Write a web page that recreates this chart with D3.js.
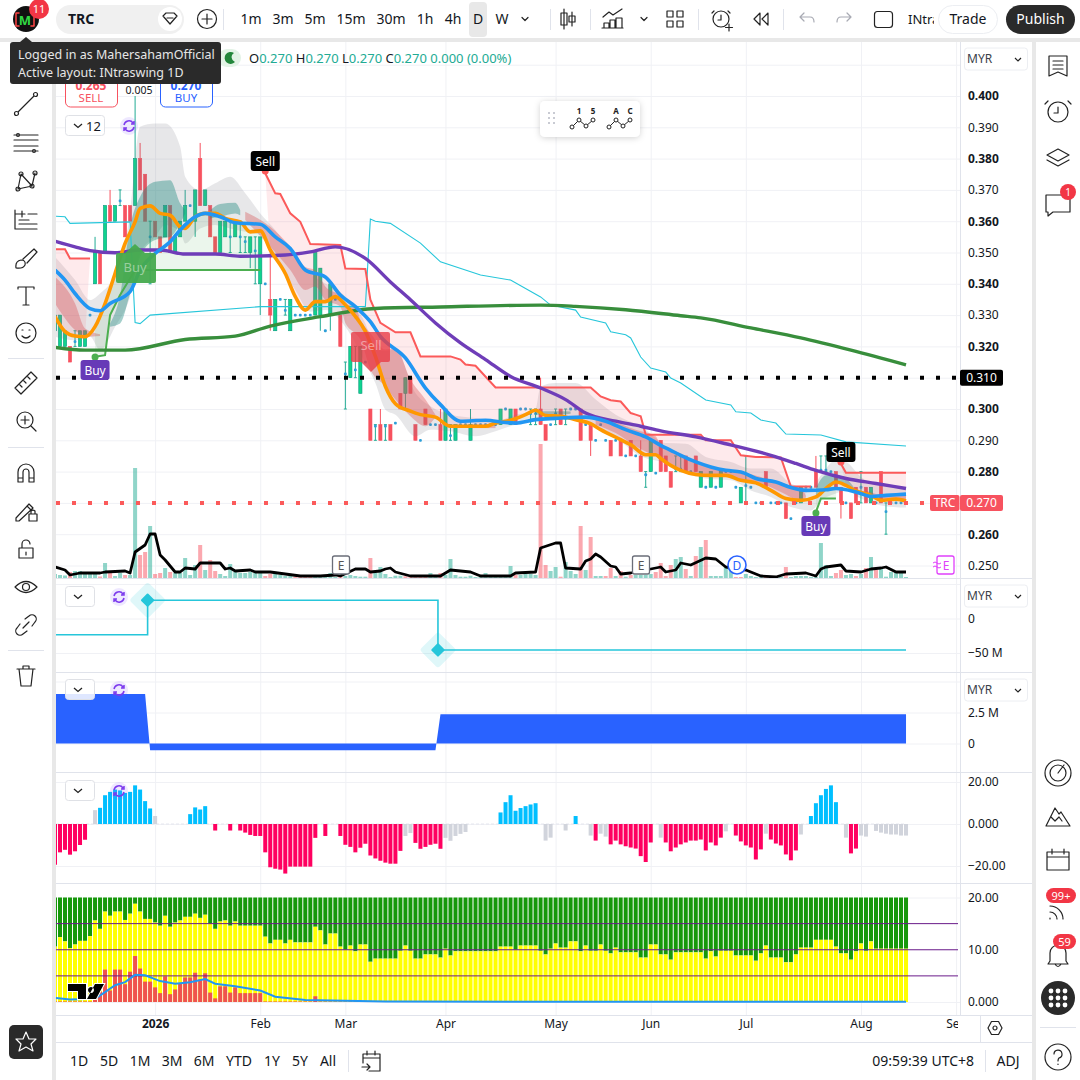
<!DOCTYPE html>
<html>
<head>
<meta charset="utf-8">
<script src="https://cdn.jsdelivr.net/npm/d3@7"></script>
<style>
html,body{margin:0;padding:0;background:#fff;}
svg{display:block;font-family:"Noto Sans",sans-serif;}
</style>
</head>
<body>
<svg id="chart" width="1080" height="1080"></svg>
<script>
// candles, one entry per daily bar
var open = [.325,.320,.320,.320,.3215,.320,.320,.330,.340,.350,.350,.365,.360,.3665,.365,.365,.365,.380,.375,.355,.360,.355,.355,.365,.350,.355,.360,.365,.360,.380,.365,.365,.355,.350,.355,.355,.355,.355,.3535,.350,.3505,.340,.340,.335,.325,.335,.3315,.325,.330,.330,.330,.330,.330,.330,.325,.330,.335,.330,.3112,.310,.3125,.305,.315,.300,.2945,.295,.2945,.295,.2955,.305,.305,.310,.295,.290,.300,.295,.295,.295,.290,.2915,.290,.295,.295,.290,.295,.295,.295,.295,.295,.295,.300,.295,.300,.300,.300,.2985,.2985,.300,.295,.295,.2985,.300,.297,.300,.300,.300,.295,.295,.290,.295,.290,.290,.290,.290,.285,.290,.285,.285,.279,.280,.2795,.290,.285,.280,.2808,.2808,.285,.280,.285,.275,.275,.275,.275,.275,.280,.280,.275,.270,.2755,.275,.270,.270,.280,.270,.270,.270,.270,.265,.270,.270,.275,.275,.280,.2805,.2805,.280,.280,.275,.270,.270,.275,.275,.275,.270,.270,.280,.2672,.270,.270,.270,.270];
var high = [.335,.330,.325,.320,.325,.325,.325,.330,.355,.350,.365,.370,.365,.370,.365,.365,.400,.385,.375,.360,.360,.355,.365,.365,.355,.360,.370,.365,.370,.385,.370,.365,.355,.360,.360,.360,.360,.360,.355,.355,.355,.355,.340,.350,.335,.335,.335,.335,.330,.330,.330,.330,.350,.345,.325,.340,.335,.330,.315,.320,.320,.320,.315,.300,.295,.300,.295,.295,.2955,.305,.310,.310,.295,.290,.300,.295,.295,.300,.300,.295,.295,.295,.295,.300,.295,.295,.295,.295,.295,.300,.300,.300,.300,.300,.300,.300,.300,.310,.295,.295,.300,.300,.300,.300,.300,.300,.295,.295,.290,.295,.290,.290,.290,.290,.285,.290,.285,.290,.280,.290,.2795,.290,.285,.280,.285,.285,.285,.280,.285,.280,.275,.280,.275,.280,.280,.280,.275,.275,.285,.275,.270,.270,.280,.270,.270,.270,.270,.265,.270,.275,.275,.275,.285,.285,.285,.280,.280,.275,.270,.270,.275,.280,.275,.275,.270,.280,.270,.270,.270,.270,.270];
var low = [.320,.320,.320,.315,.320,.320,.320,.330,.340,.340,.350,.360,.360,.365,.355,.360,.365,.370,.360,.340,.355,.350,.355,.350,.350,.355,.360,.365,.355,.365,.365,.355,.350,.350,.355,.350,.355,.350,.350,.345,.340,.330,.340,.325,.325,.335,.330,.325,.330,.330,.330,.330,.330,.325,.325,.325,.335,.320,.300,.310,.310,.305,.315,.290,.290,.290,.290,.290,.2955,.300,.300,.305,.290,.290,.295,.295,.295,.290,.290,.290,.290,.295,.295,.290,.295,.295,.295,.295,.295,.295,.300,.295,.295,.300,.300,.295,.295,.295,.290,.295,.295,.295,.295,.300,.300,.290,.295,.285,.290,.295,.290,.285,.290,.285,.285,.285,.285,.280,.275,.280,.2795,.280,.280,.275,.280,.280,.280,.280,.280,.275,.275,.275,.275,.275,.280,.280,.275,.270,.270,.275,.270,.270,.275,.270,.270,.270,.265,.265,.270,.270,.275,.275,.275,.280,.280,.280,.275,.265,.270,.265,.270,.270,.270,.270,.270,.270,.260,.270,.270,.270,.270];
var close = [.330,.330,.325,.315,.3215,.325,.325,.330,.350,.340,.365,.360,.365,.3665,.355,.360,.380,.370,.360,.355,.355,.350,.365,.350,.355,.360,.365,.365,.370,.365,.370,.355,.350,.360,.360,.355,.360,.355,.3535,.355,.3505,.355,.340,.330,.335,.335,.3315,.335,.330,.330,.330,.330,.350,.345,.325,.340,.335,.320,.3112,.320,.3125,.320,.315,.290,.2945,.290,.2945,.290,.2955,.300,.310,.305,.290,.290,.295,.295,.295,.290,.300,.2915,.295,.295,.295,.295,.295,.295,.295,.295,.295,.300,.300,.300,.295,.300,.300,.2985,.2985,.295,.290,.295,.2985,.295,.297,.300,.300,.290,.295,.290,.290,.295,.290,.285,.290,.285,.285,.285,.285,.280,.279,.290,.2795,.280,.280,.275,.2808,.2808,.280,.280,.280,.280,.275,.280,.275,.280,.280,.280,.275,.275,.2755,.275,.270,.270,.275,.270,.270,.270,.265,.265,.270,.275,.275,.275,.275,.2805,.2805,.280,.275,.270,.270,.265,.270,.275,.270,.275,.270,.270,.2672,.270,.270,.270,.270];
var volume = [4,3,2.5,6,7,7,5,5,5,1.5,15,5,2,5,3,3,110,23,26,52,4,5,10,6,5,5,20,3,13,33,8,18,7,4,2,14,6,5,5,6,5,5,2,4,4,3,2,2,1.3,1,1,1,1,1,1,5,1,2.7,2,3,2,1.3,1.3,20,5,11,4,1,2.3,2.3,1.7,1.5,1.5,1.5,1.5,5,2,5,3,19,3,1.3,1.3,2.3,1,1,5,1,1,1.3,2,12,3,3,4,4,3,134,13,7,11,1.3,16,7,4,52,8,41,2,2,2,10,2,7,1.3,3,3,3,3,4,6,15,2,13,19,21,9,2,22,31,38,2,2,2,11,8,1,1,4,2,1,1,1,1,1,1,11,1,2,2,2,1,1,35,13,2,5,8,3,4,2,4,10,21,8,10,1.3,6,6,5,1];
var volumeDown = [3,9,11,14,17,18,20,21,23,29,31,32,42,43,48,49,50,51,57,63,70,71,72,73,74,77,92,97,98,101,105,107,110,111,113,115,120,121,122,123,126,128,130,136,137,142,146,156,157,160,162,164];
var volumeAvg = [[0,11],[2,8],[3,3],[5,5],[9,5],[10,6],[14,7],[15,5],[16,26],[18,33],[19,44],[20,44],[21,23],[22,18],[24,6],[25,6],[26,10],[28,9],[29,15],[33,15],[34,9],[35,10],[36,7],[39,8],[40,6],[43,6],[46,4],[49,2],[53,2],[56,3],[57,2],[60,9],[62,9],[63,6],[65,7],[66,9],[67,10],[68,6],[71,2],[77,2],[78,5],[79,8],[83,6],[85,2],[91,2],[92,5],[96,6],[97,30],[100,35],[101,35],[102,10],[105,9],[106,17],[107,19],[108,24],[109,21],[111,12],[112,11],[113,4],[115,5],[119,9],[121,11],[122,6],[124,8],[125,15],[127,13],[130,20],[132,19],[134,11],[138,8],[141,2],[144,1],[146,4],[150,5],[152,2],[153,9],[154,11],[157,13],[158,7],[161,6],[163,9],[165,10],[166,11],[168,6],[170,6]];

// moving averages as [bar, price]
var maFast = [[0,.3295],[2,.3247],[4,.3233],[6,.3231],[8,.3263],[10,.3337],[12,.3433],[14,.3529],[16,.3598],[17,.3641],[19,.3649],[21,.3625],[23,.3619],[25,.3582],[26,.3577],[28,.3614],[30,.3625],[32,.3625],[34,.3609],[37,.3598],[39,.3566],[41,.3569],[43,.3508],[46,.3433],[48,.3359],[50,.3316],[52,.3343],[54,.3343],[56,.3359],[58,.3333],[60,.3296],[62,.3248],[64,.3168],[66,.3072],[68,.3017],[71,.2993],[73,.2982],[76,.2974],[79,.2945],[82,.2945],[86,.2945],[88,.2955],[91,.2964],[94,.2982],[96,.2996],[98,.2979],[101,.2977],[104,.2966],[107,.2953],[109,.2934],[113,.2902],[115,.2886],[118,.2854],[120,.2854],[121,.2842],[123,.282],[125,.2804],[128,.2791],[131,.2788],[134,.2788],[137,.2772],[140,.2764],[143,.274],[146,.2714],[149,.2708],[152,.2719],[154,.2746],[156,.2767],[158,.2756],[160,.2738],[163,.2724],[165,.2708],[168,.2712],[170,.2706]];
var maMid = [[0,.3444],[2,.3412],[4,.3369],[7,.3321],[9,.3314],[11,.3337],[15,.3375],[17,.3444],[20,.3497],[23,.3534],[25,.3572],[28,.3614],[30,.3625],[33,.3614],[36,.3595],[41,.359],[44,.355],[47,.3513],[50,.3444],[54,.3422],[57,.3364],[60,.3327],[63,.3279],[65,.3232],[70,.3163],[74,.3067],[77,.3014],[81,.2961],[86,.2964],[90,.2957],[92,.2955],[96,.2966],[100,.297],[106,.2974],[110,.2961],[114,.2934],[118,.2911],[121,.2884],[123,.2868],[125,.2852],[128,.2831],[131,.2815],[134,.2804],[137,.2799],[140,.2778],[144,.2767],[147,.2749],[150,.274],[154,.2742],[156,.2746],[160,.2735],[163,.2721],[166,.2724],[170,.2728]];
var maSlow = [[0,.3536],[4,.3518],[7,.3506],[12,.3499],[17,.3508],[21,.3508],[26,.3495],[32,.3495],[37,.3488],[46,.3492],[51,.3502],[56,.3518],[62,.3481],[67,.3406],[71,.3349],[76,.3275],[81,.3211],[86,.3158],[91,.3104],[97,.3067],[102,.303],[106,.2987],[112,.2961],[117,.2945],[121,.293],[128,.2911],[134,.2889],[143,.2852],[148,.2826],[152,.2804],[158,.2778],[164,.2762],[170,.2746]];
var maLong = [[0,.3197],[6,.3188],[14,.3188],[26,.3222],[36,.3233],[43,.3265],[53,.3295],[64,.3321],[77,.3326],[97,.3332],[104,.3328],[114,.3317],[125,.3298],[129,.3291],[139,.3259],[149,.3227],[159,.3188],[170,.3141]];
var upperBand = [[0,.3616],[2,.3614],[3,.3593],[15,.3598],[16,.3276],[17,.3273],[19,.33],[41,.3327],[62,.3327],[63,.3607],[64,.36],[67,.3593],[73,.353],[77,.347],[85,.3428],[91,.3412],[97,.3358],[99,.3332],[104,.3316],[105,.3294],[110,.3275],[111,.3247],[114,.3237],[115,.3227],[117,.3166],[119,.3131],[122,.3118],[123,.3099],[125,.3083],[130,.3029],[135,.3013],[136,.2991],[139,.2987],[141,.2965],[144,.2955],[146,.292],[153,.2917],[158,.2895],[170,.2882]];

// trailing stops, filled towards maFast
var stopsDown = [
  [[0,.351],[2,.351],[3,.3481],[7,.3481]],
  [[42,.3753],[44,.3689],[45,.3687],[47,.3625],[49,.3598],[51,.3527],[57,.3524],[58,.3449],[62,.3447],[63,.3349],[65,.3275],[68,.3245],[71,.3245],[73,.3168],[79,.3168],[81,.3158],[82,.3142],[84,.3138],[88,.3069],[107,.3069],[109,.304],[111,.3028],[113,.3024],[115,.2987],[116,.2982],[117,.2977],[118,.2918],[129,.2918],[130,.29],[135,.29],[137,.2852],[140,.2847],[145,.2845],[147,.2752],[151,.2752]],
  [[157,.2825],[158,.2796],[170,.2796]]
];
var stopsUp = [
  [[8,.3167],[10,.3172],[11,.33],[13,.3364],[16,.3444],[20,.3444],[41,.3444]],
  [[152,.2671],[153,.2714],[156,.2714]]
];

// cloud [bar, top, bottom]
var cloudGrey = [[0,.3486,.3231],[4,.3412,.322],[7,.3348,.3231],[9,.3369,.3188],[12,.3433,.3263],[15,.3625,.3359],[17,.3902,.3497],[20,.3912,.355],[22,.3912,.3588],[25,.3838,.3566],[26,.3742,.3529],[29,.3699,.3577],[32,.3721,.3588],[35,.3742,.3577],[38,.3689,.3566],[41,.3625,.3556],[44,.3572,.3486],[48,.3486,.338],[51,.3433,.3311],[54,.3401,.3316],[58,.3359,.3263],[62,.3273,.3146],[64,.319,.3083],[66,.3185,.2998],[68,.319,.2982],[72,.3051,.2913],[75,.3009,.2934],[79,.2982,.2929],[84,.2971,.2913],[88,.2961,.2929],[92,.2982,.295],[96,.2998,.2961],[97,.3072,.2971],[100,.3083,.2982],[104,.3083,.2971],[108,.303,.2945],[112,.2982,.2907],[117,.2945,.2849],[122,.2891,.2827],[126,.2889,.2794],[130,.2847,.2778],[135,.2831,.2772],[139,.281,.274],[143,.281,.2719],[147,.2762,.2687],[151,.2746,.2676],[153,.2788,.2708],[156,.2836,.273],[158,.2831,.274],[161,.2783,.2714],[165,.2756,.2692],[170,.2746,.2685]];
var cloudTeal = [
  [[11,.3273,.3263],[13,.3364,.3273],[15,.3582,.3369],[17,.3678,.3486],[20,.3726,.354],[23,.3731,.355],[25,.3657,.3593],[26,.3635,.3625]],
  [[31,.3635,.3609],[33,.3655,.3614],[36,.3659,.3625],[37,.3635,.3619]],
  [[96,.2992,.2982],[100,.2993,.2982],[103,.2992,.2985]],
  [[152,.2746,.2717],[154,.2788,.274],[156,.2788,.2762],[158,.2778,.2756],[160,.274,.2737]]
];
var cloudPink = [
  [[0,.3422,.3337],[4,.3337,.3252],[6,.3257,.3231],[9,.3239,.3233]],
  [[38,.363,.3604],[43,.3582,.3518],[47,.3518,.3444],[50,.3454,.338],[52,.3444,.3391],[54,.3391,.3348],[57,.3359,.3327],[58,.3335,.3275],[60,.3327,.3241],[61,.3285,.3222],[63,.3243,.3126],[66,.319,.3072],[68,.3195,.303],[71,.3094,.2977],[74,.303,.2945],[76,.2982,.2974]],
  [[83,.295,.2939],[88,.295,.2939]],
  [[108,.2971,.295],[112,.2957,.2923],[116,.2934,.2881],[120,.2913,.2849],[121,.2884,.2842],[125,.2858,.281],[128,.2831,.2791],[133,.281,.2788],[137,.2799,.2772],[141,.2783,.2762],[145,.2762,.2735],[149,.2746,.2708],[150,.2724,.2717]],
  [[162,.274,.2724],[166,.2724,.2711],[170,.2724,.2706]]
];

// lower panes
var flowBars = [0,18.5,76.5,170];
var flowValues = [-23.5,26.5,-45.6];
var cashValues = [4.0,-.55,2.35];
var momentum = [-19.4,-13.5,-12.3,-14.6,-13,-10,-7.5,0,6.6,7.7,13.7,15.3,16.4,16,14.8,15.3,18.4,16.4,10.9,7.4,3.8,0,0,0,0,0,0,4.7,7.9,6.9,8.5,0,-3.1,0,0,-3.1,0,-3.1,-4.1,-5.2,-5.7,-5.7,-13.5,-20.6,-21.3,-21.7,-23.6,-20.3,-20.3,-20.3,-20.3,-20.3,-6.6,0,-5.7,0,0,-5.7,-9.9,-10.9,-13.5,-11.3,-9.4,-15,-16.4,-17.5,-18.4,-18.9,-18.9,-12.8,-5.7,-4.3,-9,-11.8,-10.9,-9.9,-9.4,-11.8,-6.6,-8,-5.7,-4.7,-3.8,0,0,0,0,0,0,5.5,10.4,13.7,6.3,7.6,8.5,9.3,9.9,0,-7.9,-6.5,0,0,-3.1,0,3.8,0,0,-5.5,-7.9,-4.6,-6,-9.7,-7.9,-9.7,-10.6,-11.2,-11.7,-15.3,-18.1,-8.8,0,-6.5,-8.8,-13,-11.2,-9.7,-8.8,-7.9,-7.9,-7.4,-12.6,-8.8,-10.2,-6.5,-3.5,0,-5.5,-8.3,-10.2,-11.2,-16.9,-12.1,-4.6,-7.4,-9.3,-10.2,-14.5,-17.3,-12.6,-5,0,3.8,9.9,13.7,16.7,18.4,10.4,0,-6.5,-14,-11.7,-5.5,-6,0,-3.3,-4.1,-4.6,-5,-5,-5.5,-5.5];
var momentumGrey = [8,20,70,71,78,79,80,81,82,98,99,102,107,109,110,121,134,142,149,158,161,162,164,165,166,167,168,169,170];
var yellowTop = [10.6,12.4,11.6,10.3,11,11.7,11.7,12.6,15.6,14,17.3,16.5,17.3,17.3,15.7,16.9,18.8,17.3,15.9,15.9,15.2,14.6,16.5,14.4,15.2,15.6,16.3,16.3,16.9,16.1,16.7,15,14,15.4,15.6,14.6,15.4,14.6,14.6,14.6,14.6,14.6,12.5,11.2,11.9,11.9,11.2,11.9,11.4,11.4,11.4,11.4,14.4,13.7,11,13.1,13.1,10.6,10,10.8,9.7,11,11,7.7,8.3,8.3,8.3,8.3,8.3,9.8,10.8,9.8,8.3,8.3,9.1,9.1,9.1,8.5,10.2,8.9,9.7,9.7,9.7,9.7,9.7,9.7,9.7,9.7,9.7,10.6,10.6,10.6,10,10.8,10.8,10.8,10.8,9.8,9.1,10.2,11.2,10.4,10.4,11.6,11.6,9.7,10.8,9.8,9.8,11,9.8,9.3,10.4,9.5,9.5,9.5,9.5,8.5,8.5,11,11,9.1,9.1,8.1,9.5,9.5,9.5,9.5,9.5,9.5,8.3,9.7,8.7,9.8,9.8,9.8,8.9,8.9,8.9,8.9,7.9,9.3,10.8,8.5,8.5,8.5,7.6,7.6,9.1,10.4,10.4,10.4,11.9,11.9,11.9,11.9,10.6,9.3,9.3,8.1,9.7,11.2,9.8,11.6,10.2,10.2,10.2,10.2,10.2,10.2,10.2];
var redTop = [.1,.1,.1,.1,.1,.1,.1,.1,1,2,6.2,2.2,6.2,6.2,3.4,5.8,8.8,6.4,3.9,3.9,2.8,1.7,4.9,1.5,2.4,3.5,4.7,4.7,5.6,4.3,5.5,1.8,.7,3,3,1.8,2.8,1.7,1.7,1.7,1.7,1.7,.1,.1,.1,.1,.1,.1,.1,.1,.1,.1,1.1,.1,.1,.1,.1,.1,.1,.1,.1,.1,.1,.1,.1,.1,.1,.1,.1];
var riskLine = [[0,.8],[3,.5],[8,.6],[10,1.9],[12,3.2],[14,3.8],[16,5.2],[18,5.1],[21,4],[24,3.5],[27,3.8],[30,4.4],[32,3.5],[36,3],[41,2.2],[44,1],[50,.4],[58,.25],[66,.1],[95,.05],[170,.05]];
var levels = [15,10,5];

var priceTicks = [.40,.39,.38,.37,.36,.35,.34,.33,.32,.31,.30,.29,.28,.27,.26,.25];
var monthBars = [20,41,58,78,100,119,138,161,180];
var monthLabels = ["2026","Feb","Mar","Apr","May","Jun","Jul","Aug","Sep"];
var rangeLabels = ["1D","5D","1M","3M","6M","YTD","1Y","5Y","All"];
var intervalLabels = ["1m","3m","5m","15m","30m","1h","4h","D","W"];
var barCount = open.length;

var svg = d3.select("#chart");
var x = d3.scaleLinear().domain([0,barCount-1]).range([55,55+5.006*(barCount-1)]);
var y = d3.scaleLinear().domain([.40,.25]).range([96,565.5]);
var yVol = d3.scaleLinear().domain([0,100]).range([578,478]);
var yFlow = d3.scaleLinear().domain([0,-50]).range([618.5,653]);
var yCash = d3.scaleLinear().domain([0,2.5]).range([743.5,712.5]);
var yMom = d3.scaleLinear().domain([20,-20]).range([782,866]);
var yRisk = d3.scaleLinear().domain([20,0]).range([897.5,1002]);

var defs = svg.append("defs");
defs.append("clipPath").attr("id","clipMain").append("rect").attr("x",56).attr("y",41).attr("width",904).attr("height",537);
defs.append("clipPath").attr("id","clipLow").append("rect").attr("x",56).attr("y",578).attr("width",904).attr("height",437);
defs.append("clipPath").attr("id","clipTime").append("rect").attr("x",56).attr("y",1015).attr("width",902).attr("height",27);
var shadow = defs.append("filter").attr("id","soft").attr("x","-20%").attr("y","-20%").attr("width","140%").attr("height","140%");
shadow.append("feDropShadow").attr("dx",0).attr("dy",1).attr("stdDeviation",3).attr("flood-opacity",.18);

var TEAL = "#089981", GREENBODY = "#0fd48d", REDBODY = "#f7525f", INK = "#131722", GRID = "#f0f1f5", SEP = "#e0e3eb";

// ----- frame -----
svg.append("rect").attr("width",1080).attr("height",1080).attr("fill","#fff");
svg.append("rect").attr("x",0).attr("y",38).attr("width",1080).attr("height",4).attr("fill","#e8e8e8");
svg.append("rect").attr("x",52).attr("y",42).attr("width",4).attr("height",1038).attr("fill","#e8e8e8");
svg.append("rect").attr("x",1032).attr("y",42).attr("width",4).attr("height",1038).attr("fill","#e8e8e8");

// grid
var gridG = svg.append("g");
function hGrid(vals,scale){
  gridG.selectAll(null).data(vals).enter().append("line")
    .attr("x1",56).attr("x2",960).attr("y1",function(d){return scale(d)+.5}).attr("y2",function(d){return scale(d)+.5})
    .attr("stroke",GRID).attr("stroke-width",1);
}
hGrid([.41].concat(priceTicks),y);
hGrid([50,0,-50],yFlow);
hGrid([5,2.5,0],yCash);
hGrid([20,0,-20],yMom);
hGrid([20,0],yRisk);
gridG.selectAll(null).data(monthBars).enter().append("line")
  .attr("x1",function(d){return x(d)+.5}).attr("x2",function(d){return x(d)+.5}).attr("y1",42).attr("y2",1015)
  .attr("stroke",GRID);
[578,672,772,883,1015,1042].forEach(function(v){
  gridG.append("line").attr("x1",56).attr("x2",1032).attr("y1",v+.5).attr("y2",v+.5).attr("stroke",SEP);
});
gridG.append("line").attr("x1",960.5).attr("x2",960.5).attr("y1",42).attr("y2",1015).attr("stroke",SEP);
gridG.append("line").attr("x1",980.5).attr("x2",980.5).attr("y1",1015).attr("y2",1042).attr("stroke",SEP);

// ----- main pane -----
var main = svg.append("g").attr("clip-path","url(#clipMain)");
var barIdx = d3.range(barCount);

main.selectAll(".vol").data(barIdx).enter().append("rect")
  .attr("x",function(i){return x(i)-2}).attr("width",4)
  .attr("y",function(i){return yVol(volume[i])}).attr("height",function(i){return yVol(0)-yVol(volume[i])})
  .attr("fill",function(i){return volumeDown.indexOf(i)>=0?"rgba(247,82,95,.5)":"rgba(34,171,148,.5)"});

var candle = main.append("g");
candle.selectAll(".wick").data(barIdx).enter().append("line")
  .attr("x1",function(i){return x(i)}).attr("x2",function(i){return x(i)})
  .attr("y1",function(i){return y(high[i])}).attr("y2",function(i){return y(low[i])})
  .attr("stroke",function(i){return close[i]<open[i]?REDBODY:"#22ab94"}).attr("stroke-width",1);
// caps on bars that have no body
var flat = barIdx.filter(function(i){return open[i]==close[i]&&high[i]!=low[i]});
candle.selectAll(".cap").data(flat.concat(flat)).enter().append("line")
  .attr("x1",function(i){return x(i)-1.5}).attr("x2",function(i){return x(i)+1.5})
  .attr("y1",function(i,k){return y(k<flat.length?high[i]:low[i])}).attr("y2",function(i,k){return y(k<flat.length?high[i]:low[i])})
  .attr("stroke","#22ab94").attr("stroke-width",1);
candle.selectAll(".body").data(barIdx.filter(function(i){return open[i]!=close[i]})).enter().append("rect")
  .attr("x",function(i){return x(i)-1.6}).attr("width",3.2)
  .attr("y",function(i){return y(Math.max(open[i],close[i]))})
  .attr("height",function(i){return Math.abs(y(open[i])-y(close[i]))})
  .attr("fill",function(i){return close[i]>open[i]?GREENBODY:REDBODY})
  .attr("stroke",function(i){return close[i]>open[i]?TEAL:REDBODY}).attr("stroke-width",.6);
candle.selectAll(".dot").data(barIdx.filter(function(i){return open[i]==close[i]})).enter().append("rect")
  .attr("x",function(i){return x(i)-1.4}).attr("width",2.8)
  .attr("y",function(i){return y(close[i])-1.4}).attr("height",2.8)
  .attr("rx",1).attr("fill","#2e9fd8");

var band = d3.area().x(function(d){return x(d[0])}).y0(function(d){return y(d[2])}).y1(function(d){return y(d[1])}).curve(d3.curveMonotoneX);
main.append("path").attr("d",band(cloudGrey)).attr("fill","rgba(120,123,134,.18)");
cloudTeal.forEach(function(s){main.append("path").attr("d",band(s)).attr("fill","rgba(38,140,130,.42)")});
cloudPink.forEach(function(s){main.append("path").attr("d",band(s)).attr("fill","rgba(214,80,80,.36)")});

var line = d3.line().x(function(d){return x(d[0])}).y(function(d){return y(d[1])});
var smooth = d3.line().x(function(d){return x(d[0])}).y(function(d){return y(d[1])}).curve(d3.curveMonotoneX);

function stopFill(seg,color){
  var from = seg[0][0], to = seg[seg.length-1][0];
  var under = maFast.filter(function(d){return d[0]>=from&&d[0]<=to}).reverse();
  main.append("path").attr("d",line(seg.concat(under))+"Z").attr("fill",color);
}
stopsDown.forEach(function(s){stopFill(s,"rgba(247,82,95,.12)")});
stopsUp.forEach(function(s){stopFill(s,"rgba(76,175,80,.11)")});

main.append("path").attr("d",line(upperBand)).attr("fill","none").attr("stroke","#26c6da").attr("stroke-width",1.1);
stopsDown.forEach(function(s){main.append("path").attr("d",line(s)).attr("fill","none").attr("stroke","#fb5a5a").attr("stroke-width",2)});
stopsUp.forEach(function(s){main.append("path").attr("d",line(s)).attr("fill","none").attr("stroke","#4caf50").attr("stroke-width",2)});

main.append("path").attr("d",smooth(maLong)).attr("fill","none").attr("stroke","#388e3c").attr("stroke-width",3.4);
main.append("path").attr("d",smooth(maSlow)).attr("fill","none").attr("stroke","#6f3db8").attr("stroke-width",3.4);
main.append("path").attr("d",smooth(maFast)).attr("fill","none").attr("stroke","#ff9800").attr("stroke-width",3.6);
main.append("path").attr("d",smooth(maMid)).attr("fill","none").attr("stroke","#2196f3").attr("stroke-width",3.6);

main.append("path").attr("d",line(volumeAvg.map(function(d){return [d[0],y.invert(yVol(d[1]))]})))
  .attr("fill","none").attr("stroke","#000").attr("stroke-width",2.8).attr("stroke-linejoin","round");

// level lines
main.append("line").attr("x1",56).attr("x2",960).attr("y1",y(.31)).attr("y2",y(.31))
  .attr("stroke","#000").attr("stroke-width",4).attr("stroke-dasharray","4 12");
main.append("line").attr("x1",56).attr("x2",928).attr("y1",y(.27)).attr("y2",y(.27))
  .attr("stroke","#fb5a5a").attr("stroke-width",4).attr("stroke-dasharray","4 12");

// signal boxes
function signalBox(bx,by,bw,bh,tipX,tipY,color,label,tx,ty){
  main.append("path").attr("d","M"+(bx+2)+" "+by+"H"+(bx+bw-2)+"Q"+(bx+bw)+" "+by+" "+(bx+bw)+" "+(by+2)+"V"+(by+bh-2)+"Q"+(bx+bw)+" "+(by+bh)+" "+(bx+bw-2)+" "+(by+bh)+"H"+(bx+2)+"Q"+bx+" "+(by+bh)+" "+bx+" "+(by+bh-2)+"V"+(by+2)+"Q"+bx+" "+by+" "+(bx+2)+" "+by+"Z").attr("fill",color);
  main.append("path").attr("d","M"+(tipX-10)+" "+(tipY<by?by:by+bh)+"L"+tipX+" "+tipY+"L"+(tipX+10)+" "+(tipY<by?by:by+bh)+"Z").attr("fill",color);
  main.append("text").attr("x",tx).attr("y",ty).attr("text-anchor","middle").attr("font-size",13).attr("fill","rgba(255,255,255,.45)").text(label);
}
signalBox(116,253,40,30,135,244,"rgba(70,170,78,.95)","Buy",135,272);
signalBox(351,332,39,30,371,372,"rgba(232,60,70,.8)","Sell",371,350);

function tag(cx,dotY,boxY,fill,dotFill,label){
  main.append("circle").attr("cx",cx).attr("cy",dotY).attr("r",3.5).attr("fill",dotFill);
  main.append("rect").attr("x",cx-14.5).attr("y",boxY).attr("width",29).attr("height",20).attr("rx",3).attr("fill",fill);
  main.append("text").attr("x",cx).attr("y",boxY+14.5).attr("text-anchor","middle").attr("font-size",12).attr("fill","#fff").text(label);
}
tag(x(8),357,360,"#673ab7","#4caf50","Buy");
tag(x(42),171,151,"#000","#fb5a5a","Sell");
tag(x(152),513,516,"#673ab7","#4caf50","Buy");
tag(x(157),462,442,"#000","#fb5a5a","Sell");

// event marks
function eventMark(cx,label){
  main.append("rect").attr("x",cx-8.5).attr("y",556).attr("width",17).attr("height",18).attr("rx",2).attr("fill","#fff").attr("stroke","#6a6d78").attr("stroke-width",1.3);
  main.append("text").attr("x",cx).attr("y",570).attr("text-anchor","middle").attr("font-size",12).attr("fill","#555").text(label);
}
eventMark(341,"E");
eventMark(641,"E");
main.append("circle").attr("cx",737).attr("cy",565).attr("r",9).attr("fill","#fff").attr("stroke","#2962ff").attr("stroke-width",1.6);
main.append("text").attr("x",737).attr("y",570).attr("text-anchor","middle").attr("font-size",12).attr("fill","#2962ff").text("D");
main.append("rect").attr("x",937).attr("y",556).attr("width",17).attr("height",18).attr("rx",2).attr("fill","#fff").attr("stroke","#e040fb").attr("stroke-width",1.3);
main.append("text").attr("x",946).attr("y",570).attr("text-anchor","middle").attr("font-size",12).attr("fill","#e040fb").text("E");
main.append("path").attr("d","M933 563q2 -2 4 0t4 0M933 567q2 -2 4 0t4 0").attr("fill","none").attr("stroke","#e040fb");

// ----- lower panes -----
var low_ = svg.append("g").attr("clip-path","url(#clipLow)");

var flowPts = [];
flowValues.forEach(function(v,k){flowPts.push([flowBars[k],v]);flowPts.push([flowBars[k+1],v])});
low_.append("path").attr("d",d3.line().x(function(d){return x(d[0])}).y(function(d){return yFlow(d[1])})(flowPts))
  .attr("fill","none").attr("stroke","#26c6da").attr("stroke-width",1.6);
[1,2].forEach(function(k){
  var g = low_.append("g").attr("transform","translate("+x(flowBars[k])+","+yFlow(flowValues[k])+") rotate(45)");
  g.append("rect").attr("x",-13).attr("y",-13).attr("width",26).attr("height",26).attr("rx",3).attr("fill","rgba(38,198,218,.15)");
  g.append("rect").attr("x",-5).attr("y",-5).attr("width",10).attr("height",10).attr("rx",1).attr("fill","#26c6da");
});

var cashPts = [[0,cashValues[0]],[18,cashValues[0]],[19,cashValues[1]],[76,cashValues[1]],[77,cashValues[2]],[170,cashValues[2]]];
low_.append("path").attr("d",d3.area().x(function(d){return x(d[0])}).y0(yCash(0)).y1(function(d){return yCash(d[1])})(cashPts))
  .attr("fill","#2962ff");

low_.append("line").attr("x1",56).attr("x2",906).attr("y1",yMom(0)).attr("y2",yMom(0)).attr("stroke","#e4e6ee").attr("stroke-dasharray","3 2");
low_.selectAll(".mom").data(barIdx.filter(function(i){return momentum[i]!=0})).enter().append("rect")
  .attr("x",function(i){return x(i)-2}).attr("width",4)
  .attr("y",function(i){return yMom(Math.max(0,momentum[i]))})
  .attr("height",function(i){return Math.abs(yMom(momentum[i])-yMom(0))})
  .attr("fill",function(i){return momentumGrey.indexOf(i)>=0?"#d1d4dc":(momentum[i]>0?"#00bfff":"#ff0060")});

low_.selectAll(".gr").data(barIdx).enter().append("rect")
  .attr("x",function(i){return x(i)-2}).attr("width",4)
  .attr("y",yRisk(20)).attr("height",function(i){return yRisk(yellowTop[i])-yRisk(20)}).attr("fill","#16980a");
low_.selectAll(".ye").data(barIdx).enter().append("rect")
  .attr("x",function(i){return x(i)-2}).attr("width",4)
  .attr("y",function(i){return yRisk(yellowTop[i])}).attr("height",function(i){return yRisk(0)-yRisk(yellowTop[i])}).attr("fill","#ffff00");
low_.selectAll(".re").data(barIdx.filter(function(i){return redTop[i]>0})).enter().append("rect")
  .attr("x",function(i){return x(i)-2}).attr("width",4)
  .attr("y",function(i){return yRisk(redTop[i])}).attr("height",function(i){return yRisk(0)-yRisk(redTop[i])}).attr("fill","#ef5350");
low_.selectAll(".lv").data(levels).enter().append("line")
  .attr("x1",56).attr("x2",958).attr("y1",function(d){return yRisk(d)}).attr("y2",function(d){return yRisk(d)})
  .attr("stroke","#6a1b8a").attr("stroke-width",1);
low_.append("path").attr("d",d3.line().x(function(d){return x(d[0])}).y(function(d){return yRisk(d[1])})(riskLine))
  .attr("fill","none").attr("stroke","#2196f3").attr("stroke-width",2);

// tradingview mark
low_.append("path").attr("d","M68 984h18v15h-8v-8h-10zM95 984h9l-8 15h-9zM91 987a3 3 0 1 0 0.01 0")
  .attr("fill","#000").attr("stroke","#fff").attr("stroke-width",2).attr("paint-order","stroke");

// ----- axes -----
function rightAxis(scale,ticks,fmt){
  var g = svg.append("g").attr("transform","translate(968,0)")
    .call(d3.axisRight(scale).tickValues(ticks).tickFormat(fmt).tickSize(0).tickPadding(0));
  g.select(".domain").remove();
  g.selectAll("text").attr("font-size",12).attr("font-family","Noto Sans").attr("fill",INK);
  return g;
}
var priceAxis = rightAxis(y,priceTicks,d3.format(".3f"));
priceAxis.selectAll("text").attr("font-weight",function(d){return Math.round(d*1000)%20==0?700:400});
rightAxis(yFlow,[0,-50],function(d){return d==0?"0":"−50 M"});
rightAxis(yCash,[2.5,0],function(d){return d==0?"0":"2.5 M"});
rightAxis(yMom,[20,0,-20],function(d){return d==0?"0.000":(d<0?"−20.00":"20.00")});
rightAxis(yRisk,[20,10,0],function(d){return d==0?"0.000":d.toFixed(2)});

var timeAxis = svg.append("g").attr("clip-path","url(#clipTime)").append("g").attr("transform","translate(0,1018)")
  .call(d3.axisBottom(x).tickValues(monthBars).tickFormat(function(d,k){return monthLabels[k]}).tickSize(0).tickPadding(2));
timeAxis.select(".domain").remove();
timeAxis.selectAll("text").attr("font-size",12).attr("font-family","Noto Sans").attr("fill",INK)
  .attr("font-weight",function(d,k){return k==0?700:400})
  .attr("dy","0.7em");

// price tags
function priceTag(v,fill,label){
  svg.append("rect").attr("x",960).attr("y",y(v)-8).attr("width",43).attr("height",16).attr("rx",2).attr("fill",fill);
  svg.append("text").attr("x",981.5).attr("y",y(v)+4.5).attr("text-anchor","middle").attr("font-size",12).attr("fill","#fff").text(label);
}
priceTag(.31,"#000","0.310");
priceTag(.27,"#f7525f","0.270");
svg.append("rect").attr("x",930).attr("y",y(.27)-8).attr("width",29.5).attr("height",16).attr("rx",2).attr("fill","#f7525f");
svg.append("text").attr("x",944.5).attr("y",y(.27)+4.5).attr("text-anchor","middle").attr("font-size",12).attr("fill","#fff").text("TRC");

function select(yTop){
  svg.append("rect").attr("x",964.5).attr("y",yTop).attr("width",63).attr("height",22).attr("rx",3).attr("fill","#fff").attr("stroke","#eceef2");
  svg.append("text").attr("x",967).attr("y",yTop+15).attr("font-size",12).attr("fill","#3a3f4b").text("MYR");
  svg.append("path").attr("d","M"+1015+" "+(yTop+10)+"l3 3l3 -3").attr("fill","none").attr("stroke","#222").attr("stroke-width",1.2);
}
[48,585,679].forEach(select);

// ----- panel controls -----
function chevBox(bx,by,bw,label){
  svg.append("rect").attr("x",bx+.5).attr("y",by+.5).attr("width",bw).attr("height",20).attr("rx",3).attr("fill","rgba(255,255,255,.85)").attr("stroke","#dfe1e6");
  svg.append("path").attr("d","M"+(bx+9)+" "+(by+9)+"l4 3.5l4 -3.5").attr("fill","none").attr("stroke","#222").attr("stroke-width",1.3);
  if(label) svg.append("text").attr("x",bx+21).attr("y",by+15.5).attr("font-size",13).attr("fill",INK).text(label);
}
chevBox(65,115,39,"12");
chevBox(65,586,29);
chevBox(65,679,29);
chevBox(65,780,29);
function refresh(cx,cy){
  svg.append("circle").attr("cx",cx).attr("cy",cy).attr("r",9).attr("fill","rgba(124,77,255,.13)");
  svg.append("path").attr("d","M"+(cx-5)+" "+(cy-1)+"a5 5 0 0 1 9 -2M"+(cx+5)+" "+(cy+1)+"a5 5 0 0 1 -9 2M"+(cx+5)+" "+(cy-5)+"v3h-3M"+(cx-5)+" "+(cy+5)+"v-3h3")
    .attr("fill","none").attr("stroke","#7c3aed").attr("stroke-width",1.5);
}
refresh(129,126);refresh(119,597);refresh(119,690);refresh(119,791);

// buy / sell quick buttons
function quick(bx,color,price,label){
  svg.append("rect").attr("x",bx+.5).attr("y",70).attr("width",52).attr("height",37).attr("rx",5).attr("fill","#fff").attr("stroke",color);
  svg.append("text").attr("x",bx+26).attr("y",90).attr("text-anchor","middle").attr("font-size",12).attr("font-weight",700).attr("fill",color).text(price);
  svg.append("text").attr("x",bx+26).attr("y",102).attr("text-anchor","middle").attr("font-size",11.5).attr("fill",color).text(label);
}
quick(65,"#f7525f","0.265","SELL");
quick(160,"#2962ff","0.270","BUY");
svg.append("text").attr("x",139).attr("y",94).attr("text-anchor","middle").attr("font-size",10.5).attr("fill",INK).text("0.005");

// legend
svg.append("rect").attr("x",218).attr("y",49).attr("width",23).attr("height",18).attr("rx",9).attr("fill","#e3f3e6");
svg.append("path").attr("d","M234 53a6 6 0 1 0 1 9a5 5 0 0 1 -1 -9z").attr("fill","#22863a");
var legend = svg.append("text").attr("x",249).attr("y",63).attr("font-size",13);
[["O",INK],["0.270","#22ab94"],[" H",INK],["0.270","#22ab94"],[" L",INK],["0.270","#22ab94"],[" C",INK],["0.270","#22ab94"],[" 0.000 (0.00%)","#22ab94"]].forEach(function(p){
  legend.append("tspan").attr("fill",p[1]).attr("xml:space","preserve").style("white-space","pre").text(p[0]);
});

// floating drawing widget
svg.append("rect").attr("x",540).attr("y",101).attr("width",100).attr("height",36).attr("rx",5).attr("fill","#fff").attr("filter","url(#soft)");
d3.range(6).forEach(function(k){
  svg.append("rect").attr("x",548+(k%2)*5).attr("y",112+Math.floor(k/2)*5).attr("width",2).attr("height",2).attr("fill","#c9cbd3");
});
[[572,"1","5"],[609,"A","C"]].forEach(function(w){
  svg.append("path").attr("d","M"+w[0]+" 127l7 -7l7 6l7 -6").attr("fill","none").attr("stroke","#222");
  [[0,127],[7,120],[14,126],[21,120]].forEach(function(p){
    svg.append("circle").attr("cx",w[0]+p[0]).attr("cy",p[1]).attr("r",2).attr("fill","#fff").attr("stroke","#222");
  });
  svg.append("text").attr("x",w[0]+7).attr("y",114).attr("text-anchor","middle").attr("font-size",8).attr("font-weight",700).attr("fill","#222").text(w[1]);
  svg.append("text").attr("x",w[0]+21).attr("y",114).attr("text-anchor","middle").attr("font-size",8).attr("font-weight",700).attr("fill","#222").text(w[2]);
});

// ----- toolbars -----
function icon(cx,cy,d,color,sw){
  svg.append("path").attr("transform","translate("+cx+","+cy+")").attr("d",d)
    .attr("fill","none").attr("stroke",color||"#222").attr("stroke-width",sw||1.2).attr("stroke-linecap","round").attr("stroke-linejoin","round");
}
function ring(cx,cy,r){return "M"+(cx-r)+" "+cy+"a"+r+" "+r+" 0 1 0 "+(2*r)+" 0a"+r+" "+r+" 0 1 0 "+(-2*r)+" 0"}

// top bar
svg.append("circle").attr("cx",26).attr("cy",19).attr("r",13).attr("fill","#111");
svg.append("text").attr("x",25).attr("y",25).attr("text-anchor","middle").attr("font-size",13).attr("font-weight",700).attr("fill","#31d843").text("M");
icon(0,0,"M19 13H16V26H19M31 13H34V26H31","#f44",1.5);
svg.append("circle").attr("cx",39).attr("cy",9).attr("r",10).attr("fill","#f23645");
svg.append("text").attr("x",39).attr("y",13).attr("text-anchor","middle").attr("font-size",11).attr("fill","#fff").text("11");
svg.append("rect").attr("x",56).attr("y",5).attr("width",128).attr("height",29).attr("rx",14.5).attr("fill","#f0f0f0");
svg.append("text").attr("x",68).attr("y",24).attr("font-size",14).attr("font-weight",700).attr("fill",INK).text("TRC");
svg.append("circle").attr("cx",170).attr("cy",19).attr("r",12).attr("fill","#fff");
icon(170,19,"M-7 -3L-4 -6H4L7 -3L0 5ZM-3 -1H3");
icon(207,19,ring(0,0,9.5)+"M-5 0H5M0 -5V5");
[223,550,590,698,783].forEach(function(sx){svg.append("line").attr("x1",sx+.5).attr("x2",sx+.5).attr("y1",9).attr("y2",30).attr("stroke",SEP)});
svg.append("rect").attr("x",469).attr("y",2).attr("width",18).attr("height",35).attr("rx",4).attr("fill","#e8e8e8");
var intervalX = [251,283,315,351,391,425,453,478,502];
svg.selectAll(".iv").data(intervalLabels).enter().append("text")
  .attr("x",function(d,k){return intervalX[k]}).attr("y",24).attr("text-anchor","middle").attr("font-size",14).attr("fill",INK).text(function(d){return d});
icon(525,19,"M-3 -1.5L0 1.5L3 -1.5");
icon(567,19,"M-3 -10V10M-6 -6H0V6H-6ZM5 -7V7M2 -3H8V3H2Z");
icon(613,19,"M-10 -2L-4 -7L0 -4L9 -10M-9 9V4H-4V9M-3 9V1H2V9M3 9V-1H9V9M-11 9H10");
icon(644,19,"M-3 -1.5L0 1.5L3 -1.5");
icon(675,19,"M-8 -8H-2V-2H-8ZM2 -8H8V-2H2ZM-8 2H-2V8H-8ZM2 2H8V8H2Z");
icon(722,19,ring(-1,0,8)+"M-1 -4V1H-4M-8 -8L-10 -6M6 -8L8 -6M7 5V12M3.5 8.5H10.5");
icon(761,19,"M-1 -6L-7 0L-1 6ZM7 -6L1 0L7 6Z");
icon(807,19,"M-7 -2L-3 -6M-7 -2L-3 2M-7 -2H3Q7 -2 7 3",  "#a8aab3");
icon(844,19,"M7 -2L3 -6M7 -2L3 2M7 -2H-3Q-7 -2 -7 3",  "#a8aab3");
svg.append("rect").attr("x",874.5).attr("y",11.5).attr("width",18).attr("height",16).attr("rx",3).attr("fill","none").attr("stroke","#222").attr("stroke-width",1.2);
svg.append("text").attr("x",908).attr("y",24).attr("font-size",13).attr("fill",INK).text("INtra");
svg.append("rect").attr("x",934).attr("y",5).attr("width",6).attr("height",29).attr("fill","#fff");
svg.append("rect").attr("x",938.5).attr("y",5.5).attr("width",59).attr("height",28).attr("rx",14).attr("fill","#fff").attr("stroke","#eceef2");
svg.append("text").attr("x",968).attr("y",24).attr("text-anchor","middle").attr("font-size",14).attr("fill",INK).text("Trade");
svg.append("rect").attr("x",1006).attr("y",5).attr("width",69).attr("height",29).attr("rx",14.5).attr("fill","#2a2a2a");
svg.append("text").attr("x",1040.5).attr("y",24).attr("text-anchor","middle").attr("font-size",14).attr("fill","#fff").text("Publish");

// left toolbar
icon(26,104,"M-8 8L8 -8"+ring(-9.5,9.5,2)+ring(9.5,-9.5,2));
icon(26,143,"M-12 -8H12M-12 -3H12M-12 3H12M-12 8H12"+ring(-8,-8,1.5)+ring(8,8,1.5));
icon(26,181,"M-8 8L-5 -7L6 5L9 -8M-8 8L6 5"+ring(-8,8,2)+ring(-5,-7,2)+ring(6,5,2)+ring(9,-8,2));
icon(26,219,"M-11 -9V10H11M-11 -5H-1M2 -5H11M-7 1H3M-7 5H11M-4 -8V-2");
icon(26,258,"M-10 10Q-11 3 -5 2Q0 2 -1 7Q-3 11 -10 10ZM-3 1L8 -9L11 -6L1 5");
icon(26,296,"M-8 -7V-9H8V-7M0 -9V9M-3 9H3");
icon(26,333,ring(0,0,10)+"M-4 3Q0 7 4 3M-4 -3H-3M3 -3H4");
icon(26,383,"M-11 5L5 -11L11 -5L-5 11ZM-7 1L-4 4M-3 -3L0 0M1 -7L4 -4");
icon(26,421,ring(-1,-1,8)+"M5 5L10 10M-5 -1H3M-1 -5V3");
svg.append("line").attr("x1",8).attr("x2",44).attr("y1",358.5).attr("y2",358.5).attr("stroke",SEP);
svg.append("line").attr("x1",8).attr("x2",44).attr("y1",447.5).attr("y2",447.5).attr("stroke",SEP);
svg.append("line").attr("x1",8).attr("x2",44).attr("y1",650.5).attr("y2",650.5).attr("stroke",SEP);
icon(26,473,"M-8 9V-1A8 8 0 0 1 8 -1V9H3V-1A3 3 0 0 0 -3 -1V9ZM-8 5H-3M3 5H8");
icon(26,511,"M-10 7L3 -7L7 -3L-7 10L-10 10ZM1 -5L5 -1M3 3H11V10H3ZM5 3V0A3 3 0 0 1 9 0V3");
icon(26,549,"M-7 -1H7V9H-7ZM-4 -1V-5A4 4 0 0 1 4 -5M0 3V6");
icon(26,587,"M-11 0Q0 -11 11 0Q0 11 -11 0Z"+ring(0,0,3.5));
icon(26,625,"M-3 3L3 -3M-1 -6L3 -9A4 4 0 0 1 9 -3L6 1M1 6L-3 9A4 4 0 0 1 -9 3L-6 -1");
icon(26,676,"M-9 -7H9M-7 -7L-5 10H5L7 -7M-3 -7V-10H3V-7");
svg.append("rect").attr("x",9).attr("y",1025).attr("width",34).attr("height",34).attr("rx",5).attr("fill","#2a2a2a");
icon(26,1042,"M0 -10L3 -3L10 -3L5 2L7 9L0 5L-7 9L-5 2L-10 -3L-3 -3Z","#fff");

// right toolbar
icon(1058,66,"M-9 -10H9V10L0 6L-9 10ZM-5 -5H5M-5 -1H5M-5 3H5");
icon(1058,111,ring(0,1,10)+"M0 -4V2H-4M-10 -10L-13 -7M10 -10L13 -7");
icon(1058,158,"M0 -9L11 -3L0 3L-11 -3ZM-11 2L0 8L11 2");
icon(1058,204,"M-12 -9H12V8H-5L-10 12V8H-12Z");
svg.append("circle").attr("cx",1068).attr("cy",192).attr("r",8).attr("fill","#f23645");
svg.append("text").attr("x",1068).attr("y",196).attr("text-anchor","middle").attr("font-size",10).attr("fill","#fff").text("1");
icon(1058,773,ring(0,0,13)+ring(0,0,8)+"M0 0L6 -8");
icon(1058,817,"M-12 9L-3 -9L1 -3L3 -5L12 9ZM-7 0L-3 4L1 0L4 4");
icon(1058,860,"M-11 -8H11V10H-11ZM-11 -3H11M-6 -11V-6M6 -11V-6");
icon(1058,909,"M-8 10V9M-8 3A7 7 0 0 1 -1 10M-8 -3A13 13 0 0 1 5 10");
svg.append("rect").attr("x",1046).attr("y",888).attr("width",30).attr("height",15).attr("rx",7.5).attr("fill","#f23645");
svg.append("text").attr("x",1061).attr("y",900).attr("text-anchor","middle").attr("font-size",11).attr("fill","#fff").text("99+");
icon(1058,955,"M-8 6V-2A8 8 0 0 1 8 -2V6L10 9H-10ZM-3 9Q0 14 3 9");
svg.append("rect").attr("x",1053).attr("y",934).attr("width",23).attr("height",15).attr("rx",7.5).attr("fill","#f23645");
svg.append("text").attr("x",1064.5).attr("y",946).attr("text-anchor","middle").attr("font-size",11).attr("fill","#fff").text("59");
svg.append("circle").attr("cx",1058).attr("cy",998).attr("r",17).attr("fill","#2a2a2a");
[-7,0,7].forEach(function(dy){[-7,0,7].forEach(function(dx){
  svg.append("circle").attr("cx",1058+dx).attr("cy",998+dy).attr("r",2.4).attr("fill","#fff");
})});
svg.append("line").attr("x1",1040).attr("x2",1076).attr("y1",1027.5).attr("y2",1027.5).attr("stroke",SEP);
icon(1058,1057,ring(0,0,13)+"M-4 -3A4 4 0 1 1 1 1Q0 2 0 4M0 7V7.5");

// bottom bar
var rangeX = [79,109,140,172,204,239,272,300,328];
svg.selectAll(".rg").data(rangeLabels).enter().append("text")
  .attr("x",function(d,k){return rangeX[k]}).attr("y",1066).attr("text-anchor","middle").attr("font-size",14).attr("fill",INK).text(function(d){return d});
svg.append("line").attr("x1",348.5).attr("x2",348.5).attr("y1",1050).attr("y2",1072).attr("stroke",SEP);
svg.append("line").attr("x1",985.5).attr("x2",985.5).attr("y1",1050).attr("y2",1072).attr("stroke",SEP);
icon(371,1061,"M-8 2V-7H9V10H-2M-8 -3H9M-4 -10V-6M4 -10V-6M-9 6H-1M-4 3L-1 6L-4 9");
svg.append("text").attr("x",974).attr("y",1066).attr("text-anchor","end").attr("font-size",14).attr("fill",INK).text("09:59:39 UTC+8");
svg.append("text").attr("x",1008).attr("y",1066).attr("text-anchor","middle").attr("font-size",14).attr("fill",INK).text("ADJ");
icon(995,1028,"M-7 0L-3.5 -6.5H3.5L7 0L3.5 6.5H-3.5Z"+ring(0,0,2));

// account tooltip on top of everything
svg.append("path").attr("d","M20 42L26 37L32 42Z").attr("fill","#2a2a2a");
svg.append("rect").attr("x",10).attr("y",42).attr("width",211).attr("height",42).attr("rx",3).attr("fill","#2a2a2a");
svg.append("text").attr("x",18).attr("y",59).attr("font-size",12.5).attr("fill","#e6e6e6").text("Logged in as MahersahamOfficial");
svg.append("text").attr("x",18).attr("y",77).attr("font-size",12.5).attr("fill","#e6e6e6").text("Active layout: INtraswing 1D");
</script>
</body>
</html>
